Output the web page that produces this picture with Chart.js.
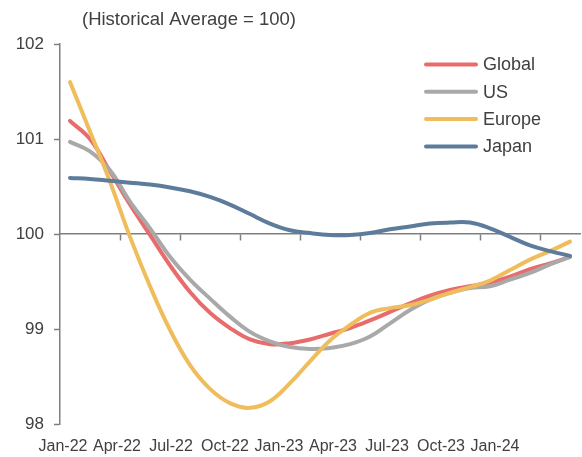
<!DOCTYPE html>
<html>
<head>
<meta charset="utf-8">
<script src="https://cdn.jsdelivr.net/npm/chart.js@4/dist/chart.umd.min.js"></script>
<style>
  html, body { margin: 0; padding: 0; background: #fff; }
  canvas { display: block; }
</style>
</head>
<body>
<canvas id="myChart" width="582" height="457"></canvas>
<script>
// Monthly readings, Jan-22 .. Feb-24
const months = [
  'Jan-22', 'Feb-22', 'Mar-22', 'Apr-22', 'May-22', 'Jun-22', 'Jul-22', 'Aug-22', 'Sep-22', 'Oct-22', 'Nov-22', 'Dec-22',
  'Jan-23', 'Feb-23', 'Mar-23', 'Apr-23', 'May-23', 'Jun-23', 'Jul-23', 'Aug-23', 'Sep-23', 'Oct-23', 'Nov-23', 'Dec-23',
  'Jan-24', 'Feb-24'
]

const tickLabels = ['Jan-22', 'Apr-22', 'Jul-22', 'Oct-22', 'Jan-23', 'Apr-23', 'Jul-23', 'Oct-23', 'Jan-24']
const yTicks = [98, 99, 100, 101, 102]

const global = [101.19, 101.00, 100.66, 100.31, 99.99, 99.67, 99.39, 99.17, 99.01, 98.89, 98.84, 98.85,
  98.89, 98.95, 99.01, 99.09, 99.18, 99.27, 99.35, 99.41, 99.45, 99.49, 99.55, 99.63, 99.69, 99.76]
const us = [100.97, 100.87, 100.67, 100.34, 100.06, 99.76, 99.52, 99.32, 99.13, 98.97, 98.87, 98.81,
  98.79, 98.80, 98.84, 98.92, 99.06, 99.20, 99.31, 99.38, 99.43, 99.45, 99.52, 99.59, 99.68, 99.76]
const europe = [101.60, 101.08, 100.55, 99.97, 99.45, 98.99, 98.62, 98.37, 98.22, 98.17, 98.24, 98.43,
  98.66, 98.88, 99.04, 99.17, 99.22, 99.25, 99.31, 99.38, 99.44, 99.51, 99.62, 99.73, 99.82, 99.92]
const japan = [100.59, 100.58, 100.56, 100.54, 100.52, 100.49, 100.45, 100.39, 100.31, 100.21, 100.11, 100.04,
  100.01, 99.99, 99.99, 100.01, 100.05, 100.08, 100.11, 100.12, 100.12, 100.06, 99.97, 99.88, 99.82, 99.77]

const seriesNames = ['Global', 'US', 'Europe', 'Japan']
const seriesColors = ['#e96c6c', '#a9a9a9', '#f0bd5c', '#5d7c9c']
const seriesData = [global, us, europe, japan]

const textColor = '#404040'
const axisColor = '#7f7f7f'
const fontFamily = '"Liberation Sans", Arial, sans-serif'

Chart.defaults.font.family = fontFamily
Chart.defaults.color = textColor

// title and legend sit inside the plot, drawn by hand
const overlayPlugin = {
  id: 'overlay',
  afterDraw (chart) {
    const ctx = chart.ctx
    ctx.save()
    ctx.fillStyle = textColor
    ctx.font = '18.5px ' + fontFamily
    ctx.textAlign = 'center'
    ctx.textBaseline = 'middle'
    ctx.fillText('(Historical Average = 100)', 189, 20)

    ctx.font = '18px ' + fontFamily
    ctx.textAlign = 'left'
    for (let i = 0; i < seriesNames.length; i++) {
      const y = 64.5 + i * 27.3
      ctx.strokeStyle = seriesColors[i]
      ctx.lineWidth = 4
      ctx.lineCap = 'round'
      ctx.beginPath()
      ctx.moveTo(426, y)
      ctx.lineTo(476, y)
      ctx.stroke()
      ctx.fillStyle = textColor
      ctx.fillText(seriesNames[i], 483, y + 1)
    }
    ctx.restore()
  }
}

function getDatasets () {
  return seriesNames.map(function (name, i) {
    return {
      label: name,
      data: seriesData[i],
      borderColor: seriesColors[i],
      backgroundColor: seriesColors[i],
      borderWidth: 4,
      borderCapStyle: 'round',
      pointRadius: 0,
      tension: 0.4,
      fill: false,
      order: seriesNames.length - i
    }
  })
}

// bottom labels run on their own linear axis: first label at 3px in, 54px apart
const labelAxisMin = -3 / 54
const labelAxisMax = 517 / 54

function getScales () {
  return {
    x: {
      type: 'category',
      position: { y: 100 },
      offset: true,
      afterFit: function (scale) { scale.height = 0 },
      grid: {
        offset: true,
        drawOnChartArea: false,
        drawTicks: true,
        tickLength: 6,
        tickWidth: 1.5,
        tickColor: function (ctx) {
          const i = ctx.index
          return (i !== undefined && i > 0 && i % 3 === 0) ? axisColor : 'rgba(0,0,0,0)'
        }
      },
      border: { display: true, color: axisColor, width: 1.5 },
      ticks: { display: false }
    },
    xLabels: {
      type: 'linear',
      position: 'bottom',
      min: labelAxisMin,
      max: labelAxisMax,
      afterBuildTicks: function (scale) {
        scale.ticks = tickLabels.map(function (_, i) { return { value: i } })
      },
      afterFit: function (scale) { scale.height = 33 },
      grid: { display: false, drawTicks: false },
      border: { display: false },
      ticks: {
        autoSkip: false,
        maxRotation: 0,
        padding: 13,
        color: textColor,
        font: { size: 16 },
        callback: function (value) { return tickLabels[value] }
      }
    },
    y: {
      type: 'linear',
      min: yTicks[0],
      max: yTicks[yTicks.length - 1],
      afterBuildTicks: function (scale) {
        scale.ticks = yTicks.map(function (v) { return { value: v } })
      },
      afterFit: function (scale) { scale.width = 60 },
      grid: {
        drawOnChartArea: false,
        drawTicks: true,
        tickLength: 6,
        tickWidth: 1.5,
        color: axisColor
      },
      border: { display: true, color: axisColor, width: 1.5 },
      ticks: {
        padding: 10,
        color: textColor,
        font: { size: 17 }
      }
    }
  }
}

const ctx = document.getElementById('myChart').getContext('2d')
// eslint-disable-next-line no-unused-vars
const myChart = new Chart(ctx, {
  type: 'line',
  data: {
    labels: months,
    datasets: getDatasets()
  },
  options: {
    responsive: false,
    animation: false,
    layout: { padding: { top: 44, right: 2, left: 0, bottom: 0 } },
    scales: getScales(),
    plugins: {
      legend: { display: false },
      title: { display: false },
      tooltip: { enabled: false }
    }
  },
  plugins: [overlayPlugin]
})
</script>
</body>
</html>
